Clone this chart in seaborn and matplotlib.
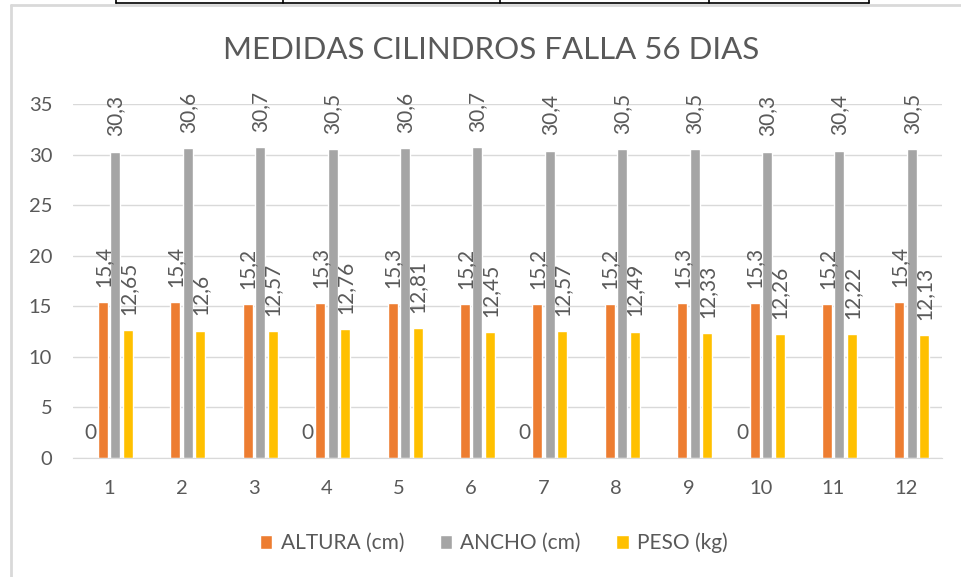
import matplotlib.pyplot as plt
import pandas as pd
import seaborn as sns
from matplotlib.lines import Line2D

# Data
muestras = ['1', '2', '3', '4', '5', '6', '7', '8', '9', '10', '11', '12']
altura = [15.4, 15.4, 15.2, 15.3, 15.3, 15.2, 15.2, 15.2, 15.3, 15.3, 15.2, 15.4]
ancho = [30.3, 30.6, 30.7, 30.5, 30.6, 30.7, 30.4, 30.5, 30.5, 30.3, 30.4, 30.5]
peso = [12.65, 12.6, 12.57, 12.76, 12.81, 12.45, 12.57, 12.49, 12.33, 12.26, 12.22, 12.13]
# hidden series (no legend entry), only some zero labels visible
oculta = [0, None, None, 0, None, None, 0, None, None, 0, None, None]

series = ['oculta', 'ALTURA (cm)', 'ANCHO (cm)', 'PESO (kg)']
colors = ['#FFFFFF', '#ED7D31', '#A5A5A5', '#FFC000']

df = pd.DataFrame({
    'muestra': muestras * 4,
    'serie': [series[0]] * 12 + [series[1]] * 12 + [series[2]] * 12 + [series[3]] * 12,
    'valor': [0 if v is None else v for v in oculta] + altura + ancho + peso,
})

sns.set_style('white')
plt.rcParams['font.family'] = ['Lato', 'DejaVu Sans']
text_color = '#595959'

fig = plt.figure(figsize=(9.61, 5.77), dpi=100)
ax = fig.add_axes([0.076, 0.2062, 0.904, 0.6136])

sns.barplot(data=df, x='muestra', y='valor', hue='serie', hue_order=series,
            palette=colors, order=muestras, width=0.69, gap=0.2, ax=ax,
            legend=False, errorbar=None, saturation=1)

ax.set_ylim(0, 35)
ax.set_xlim(-0.5, 11.5)
ax.set_yticks(range(0, 36, 5))
ax.grid(axis='y', color='#D9D9D9', linewidth=1)
ax.set_axisbelow(True)
for s in ['top', 'right', 'left']:
    ax.spines[s].set_visible(False)
ax.spines['bottom'].set_color('#D9D9D9')
ax.tick_params(axis='y', length=0, pad=15, labelsize=14.5, labelcolor=text_color)
ax.tick_params(axis='x', length=0, pad=16, labelsize=14.5, labelcolor=text_color)
ax.set_xlabel('')
ax.set_ylabel('')

def fmt(v):
    return ('%g' % v).replace('.', ',')

# value labels
for cont, vals in zip(ax.containers[1:], [altura, ancho, peso]):
    ax.bar_label(cont, labels=[fmt(v) for v in vals], rotation=90, padding=11,
                 fontsize=15, color=text_color)
ax.bar_label(ax.containers[0], labels=['' if v is None else fmt(v) for v in oculta],
             padding=11, fontsize=15, color=text_color)

# title centred on the chart area, not the plot area
fig.text(491 / 961, 1 - 50 / 577, 'MEDIDAS CILINDROS FALLA 56 DIAS', fontsize=22.5,
         color=text_color, ha='center', va='center')

ax.legend(handles=list(ax.containers[1:]), labels=series[1:], ncol=3, frameon=False,
          loc='center', bbox_to_anchor=(0.514, 0.059), bbox_transform=fig.transFigure,
          fontsize=15, labelcolor=text_color, handlelength=0.6, handleheight=0.6,
          handletextpad=0.4, columnspacing=1.7)

# chart frame and table border from the document
W, H = 961, 577
def px_line(x0, y0, x1, y1, color, lw):
    fig.add_artist(Line2D([x0 / W, x1 / W], [1 - y0 / H, 1 - y1 / H], color=color, linewidth=lw))

px_line(10.5, 4.5, 961, 4.5, '#D9D9D9', 2)
px_line(10.5, 4.5, 10.5, 577, '#D9D9D9', 2)
px_line(116, 2.5, 869, 2.5, 'black', 1.2)
for x in [116, 283, 500, 709, 869]:
    px_line(x, 0, x, 3, 'black', 1.2)

fig.savefig('out.png', dpi=100)
